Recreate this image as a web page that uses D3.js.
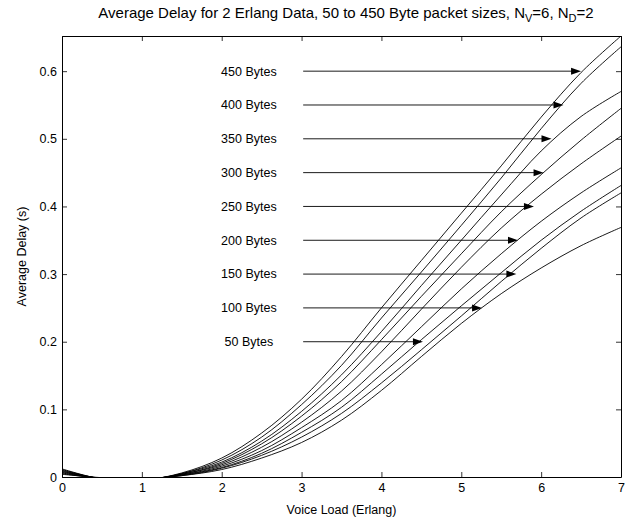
<!DOCTYPE html>
<html><head><meta charset="utf-8">
<script src="https://cdn.jsdelivr.net/npm/d3@7"></script>
<style>
body{margin:0;background:#fff}
svg{display:block}
text{font-family:"Liberation Sans",Arial,Helvetica,sans-serif;fill:#000}
</style>
</head><body>
<svg id="chart" width="628" height="522"></svg>
<script>
// ---- data ----
const voiceLoad = [0,0.5,1,1.5,2,2.5,3,3.5,4,4.5,5,5.5,6,6.5,7];
const delay450 = [0.012,-0.003,-0.005,0.006,0.028,0.065,0.115,0.178,0.250,0.320,0.390,0.460,0.532,0.598,0.652];
const delay400 = [0.011,-0.003,-0.005,0.005,0.025,0.059,0.107,0.165,0.235,0.303,0.372,0.442,0.515,0.582,0.636];
const delay350 = [0.010,-0.003,-0.005,0.005,0.022,0.053,0.097,0.151,0.215,0.283,0.350,0.417,0.482,0.533,0.570];
const delay300 = [0.009,-0.003,-0.004,0.004,0.020,0.049,0.090,0.141,0.203,0.267,0.330,0.392,0.447,0.498,0.545];
const delay250 = [0.008,-0.002,-0.004,0.004,0.018,0.044,0.081,0.127,0.185,0.248,0.310,0.368,0.418,0.463,0.504];
const delay200 = [0.007,-0.002,-0.004,0.003,0.016,0.039,0.073,0.113,0.166,0.222,0.278,0.330,0.378,0.420,0.457];
const delay150 = [0.006,-0.002,-0.003,0.003,0.014,0.035,0.066,0.103,0.152,0.203,0.253,0.302,0.350,0.393,0.431];
const delay100 = [0.005,-0.002,-0.003,0.002,0.013,0.032,0.059,0.094,0.139,0.188,0.238,0.289,0.338,0.383,0.420];
const delay50  = [0.004,-0.001,-0.003,0.002,0.011,0.028,0.051,0.084,0.128,0.178,0.227,0.271,0.309,0.342,0.369];
const allSeries = [delay450,delay400,delay350,delay300,delay250,delay200,delay150,delay100,delay50];

const annotLabels = ["450 Bytes","400 Bytes","350 Bytes","300 Bytes","250 Bytes","200 Bytes","150 Bytes","100 Bytes","50 Bytes"];
const annotY      = [0.6,0.55,0.5,0.45,0.4,0.35,0.3,0.25,0.2];
const annotTipX   = [6.50,6.28,6.13,6.03,5.91,5.71,5.69,5.26,4.52];
const annotStartX = 3.02;
const annotTextX  = 2.34;

const xTicks = [0,1,2,3,4,5,6,7];
const yTicks = [0,0.1,0.2,0.3,0.4,0.5,0.6];
const xDomain = [0,7];
const yDomain = [0,0.652];

// ---- layout ----
const L=62, R=621, T=36, B=477;
const FS=12.5;
const svg = d3.select("#chart");
const x = d3.scaleLinear().domain(xDomain).range([L,R]);
const y = d3.scaleLinear().domain(yDomain).range([B,T]);

svg.append("defs").append("clipPath").attr("id","clip")
  .append("rect").attr("x",L).attr("y",T).attr("width",R-L).attr("height",B-T);

// curves
const line = d3.line().x((d,i)=>x(voiceLoad[i])).y(d=>y(d)).curve(d3.curveCatmullRom.alpha(0.5));
svg.append("g").attr("clip-path","url(#clip)")
  .selectAll("path").data(allSeries).join("path")
  .attr("d",line).attr("fill","none").attr("stroke","#000").attr("stroke-width",0.9);

// axes (box with inward ticks)
const tickLen=5;
const fmt = d=> d===0? "0" : d3.format(".1f")(d);
const gB = svg.append("g").attr("transform",`translate(0,${B})`)
  .call(d3.axisBottom(x).tickValues(xTicks).tickSizeInner(-tickLen).tickSizeOuter(0).tickPadding(6).tickFormat(d3.format("d")));
const gT = svg.append("g").attr("transform",`translate(0,${T})`)
  .call(d3.axisTop(x).tickValues(xTicks).tickSizeInner(-tickLen).tickSizeOuter(0).tickFormat(""));
const gL = svg.append("g").attr("transform",`translate(${L},0)`)
  .call(d3.axisLeft(y).tickValues(yTicks).tickSizeInner(-tickLen).tickSizeOuter(0).tickPadding(5).tickFormat(fmt));
const gR = svg.append("g").attr("transform",`translate(${R},0)`)
  .call(d3.axisRight(y).tickValues(yTicks).tickSizeInner(-tickLen).tickSizeOuter(0).tickFormat(""));
[gB,gT,gL,gR].forEach(g=>{
  g.select(".domain").attr("stroke","#000").attr("stroke-width",1);
  g.selectAll(".tick line").attr("stroke","#000").attr("stroke-width",0.8);
  g.selectAll("text").attr("font-size",FS).attr("font-family","'Liberation Sans',Arial,sans-serif").attr("fill","#000");
});

// annotations
const ag = svg.append("g");
annotLabels.forEach((lab,i)=>{
  const yy=y(annotY[i]), x0=x(annotStartX), x1=x(annotTipX[i]);
  ag.append("line").attr("x1",x0).attr("x2",x1-8).attr("y1",yy).attr("y2",yy)
    .attr("stroke","#000").attr("stroke-width",0.9);
  ag.append("path").attr("d",`M${x1},${yy}L${x1-10},${yy-3.5}L${x1-10},${yy+3.5}Z`).attr("fill","#000");
  ag.append("text").attr("x",x(annotTextX)).attr("y",yy).attr("dy","0.35em")
    .attr("text-anchor","middle").attr("font-size",FS).text(lab);
});

// titles
const title = svg.append("text").attr("x",346).attr("y",18).attr("text-anchor","middle").attr("font-size",15);
title.append("tspan").text("Average Delay for 2 Erlang Data, 50 to 450 Byte packet sizes, N");
title.append("tspan").attr("font-size",11).attr("dy",4).text("V");
title.append("tspan").attr("dy",-4).text("=6, N");
title.append("tspan").attr("font-size",11).attr("dy",4).text("D");
title.append("tspan").attr("dy",-4).text("=2");

svg.append("text").attr("x",(L+R)/2).attr("y",514).attr("text-anchor","middle").attr("font-size",FS).text("Voice Load (Erlang)");
svg.append("text").attr("transform",`translate(26,${(T+B)/2}) rotate(-90)`).attr("text-anchor","middle").attr("font-size",FS).text("Average Delay (s)");
</script>
</body></html>
